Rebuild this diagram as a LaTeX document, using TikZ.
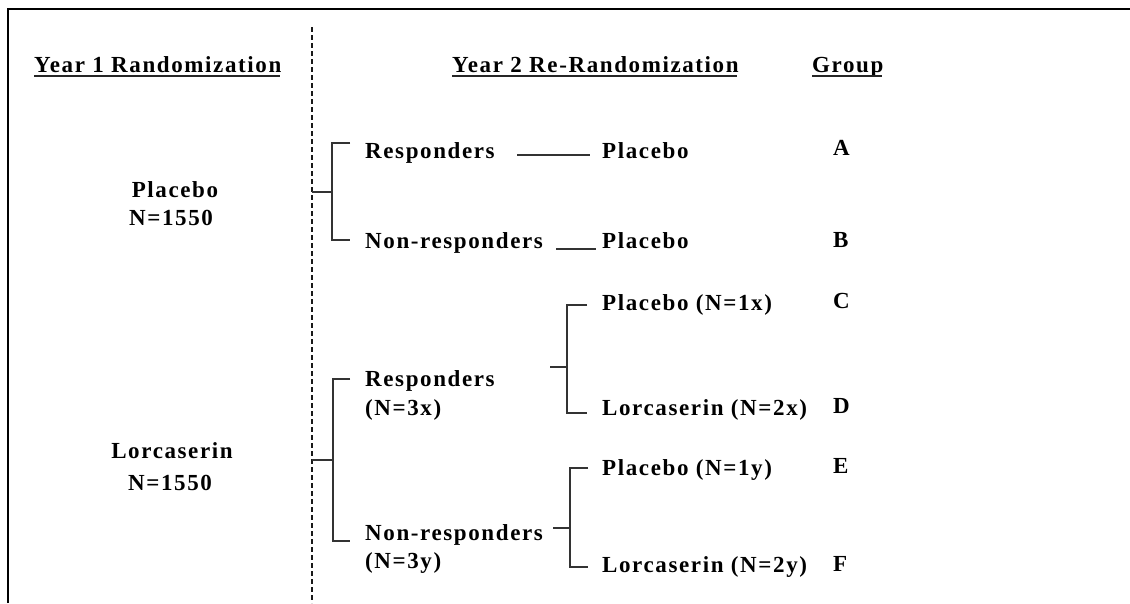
\documentclass[tikz,border=0pt]{standalone}
\usepackage{fontspec}
\setmainfont{Liberation Serif}[LetterSpace=7]
\begin{document}
\begin{tikzpicture}[x=1pt,y=-1pt,
  txt/.style={font=\fontsize{23}{27}\selectfont\bfseries, inner sep=0pt, text=black},
  br/.style={draw=black!80, line width=1.7pt},
  ul/.style={draw=black!85, line width=1.5pt},
  frameline/.style={draw=black, line width=2pt},
  divider/.style={draw=black!90, line width=1.3pt, dash pattern=on 5pt off 3pt}]
\useasboundingbox (0,0) rectangle (1130,603);
\fill[white] (0,0) rectangle (1130,603);
% frame (top and left edges)
\coordinate (fr1) at (8,603);
\coordinate (fr2) at (8,9);
\coordinate (fr3) at (1130,9);
\draw[frameline] (fr1) -- (fr2) -- (fr3);
% dashed divider
\coordinate (dT) at (312,27);
\coordinate (dB) at (312,603);
\draw[divider] (dT) -- (dB);
% headers
\node[txt, anchor=base west] (h1) at (34,72) {Year 1 Randomization};
\node[txt, anchor=base west] (h2) at (452,72) {Year 2 Re-Randomization};
\node[txt, anchor=base west] (h3) at (812,72) {Group};
\draw[ul] ([yshift=-4pt]h1.base west) -- ([yshift=-4pt,xshift=-2pt]h1.base east);
\draw[ul] ([yshift=-4pt]h2.base west) -- ([yshift=-4pt,xshift=-2pt]h2.base east);
\draw[ul] ([yshift=-4pt]h3.base west) -- ([yshift=-4pt,xshift=-2pt]h3.base east);
% year 1 arms
\node[txt, anchor=base] (pl) at (175,197) {Placebo};
\node[txt, anchor=base] (pln) at (171,225) {N=1550};
\node[txt, anchor=base] (lo) at (172,458) {Lorcaserin};
\node[txt, anchor=base] (lon) at (170,490) {N=1550};
% year 2 texts
\node[txt, anchor=base west] (r1) at (365,158) {Responders};
\node[txt, anchor=base west] (pa) at (602,158) {Placebo};
\node[txt, anchor=base west] (n1) at (365,248) {Non-responders};
\node[txt, anchor=base west] (pb) at (602,248) {Placebo};
\node[txt, anchor=base west] (r2) at (365,386) {Responders};
\node[txt, anchor=base west] (r2n) at (365,415) {(N=3x)};
\node[txt, anchor=base west] (n2) at (365,540) {Non-responders};
\node[txt, anchor=base west] (n2n) at (365,568) {(N=3y)};
\node[txt, anchor=base west] (pc) at (602,310) {Placebo (N=1x)};
\node[txt, anchor=base west] (ld) at (602,415) {Lorcaserin (N=2x)};
\node[txt, anchor=base west] (pe) at (602,475) {Placebo (N=1y)};
\node[txt, anchor=base west] (lf) at (602,572) {Lorcaserin (N=2y)};
% group letters
\node[txt, anchor=base west] (gA) at (833,155) {A};
\node[txt, anchor=base west] (gB) at (833,247) {B};
\node[txt, anchor=base west] (gC) at (833,308) {C};
\node[txt, anchor=base west] (gD) at (833,413) {D};
\node[txt, anchor=base west] (gE) at (833,473) {E};
\node[txt, anchor=base west] (gF) at (833,571) {F};
% responder -> placebo lines
\coordinate (a1) at (517,155); \coordinate (a2) at (590,155);
\coordinate (b1) at (556,249); \coordinate (b2) at (596,249);
\draw[br] (a1) -- (a2);
\draw[br] (b1) -- (b2);
% bracket 1 (placebo arm)
\coordinate (k1t) at (350,143); \coordinate (k1b) at (350,240);
\coordinate (k1s) at (312,192); \coordinate (k1m) at (332,192);
\draw[br] (k1t) -| (k1m) |- (k1b);
\draw[br] (k1s) -- (k1m);
% bracket 2 (lorcaserin arm)
\coordinate (k2t) at (350,379); \coordinate (k2b) at (350,541);
\coordinate (k2s) at (312,460); \coordinate (k2m) at (333,460);
\draw[br] (k2t) -| (k2m) |- (k2b);
\draw[br] (k2s) -- (k2m);
% bracket C/D
\coordinate (k3t) at (587,305); \coordinate (k3b) at (587,413);
\coordinate (k3s) at (550,367); \coordinate (k3m) at (567,367);
\draw[br] (k3t) -| (k3m) |- (k3b);
\draw[br] (k3s) -- (k3m);
% bracket E/F
\coordinate (k4t) at (588,468); \coordinate (k4b) at (588,567);
\coordinate (k4s) at (553,528); \coordinate (k4m) at (570,528);
\draw[br] (k4t) -| (k4m) |- (k4b);
\draw[br] (k4s) -- (k4m);
\end{tikzpicture}
\end{document}
